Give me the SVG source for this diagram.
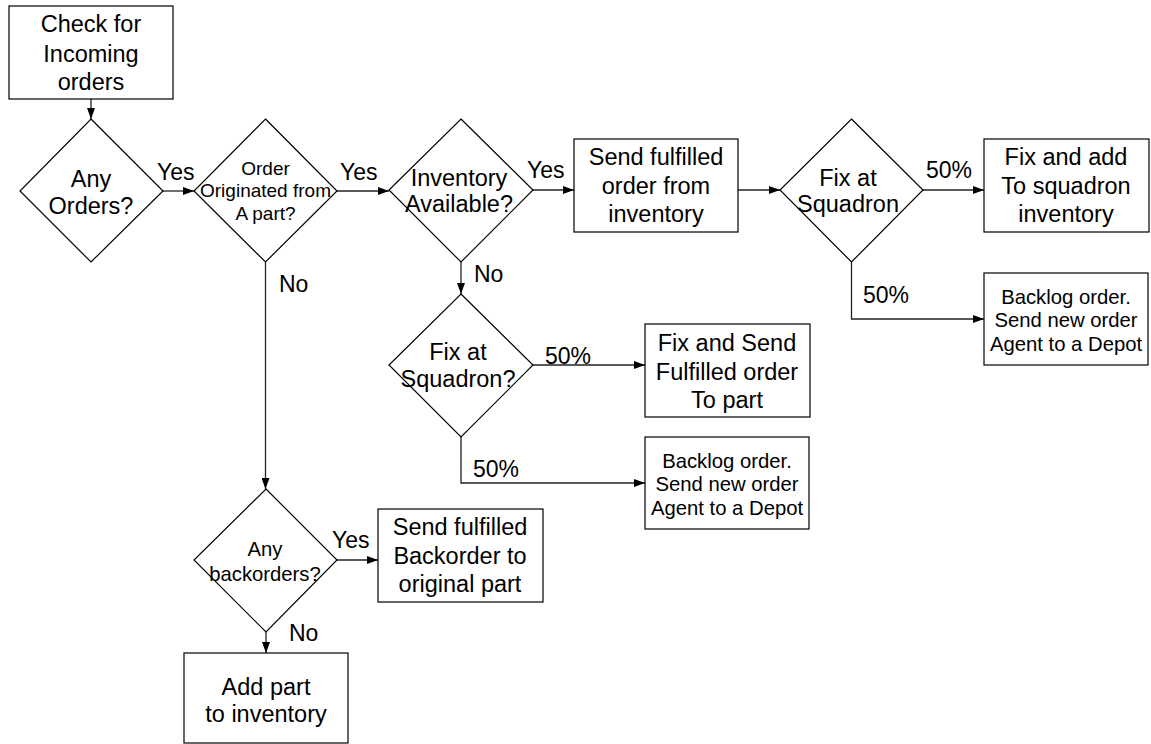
<svg xmlns="http://www.w3.org/2000/svg" width="1151" height="744" viewBox="0 0 1151 744">
<style>
.s{fill:#fff;stroke:#000;stroke-width:1.2}
.c{fill:none;stroke:#222;stroke-width:1.3}
text{font-family:"Liberation Sans",Arial,sans-serif;fill:#000}
.L{font-size:23.5px;text-anchor:middle}
.M{font-size:20.3px;text-anchor:middle}
.S{font-size:19px;text-anchor:middle}
.lb{font-size:23px}
</style>
<defs>
<marker id="ah" markerWidth="11" markerHeight="8" refX="11" refY="4" orient="auto" markerUnits="userSpaceOnUse">
<path d="M0,0 L11,4 L0,8 Z" fill="#000"/>
</marker>
</defs>
<rect width="1151" height="744" fill="#fff"/>
<g id="connectors">
<line class="c" x1="91" y1="99" x2="91" y2="119" marker-end="url(#ah)"/>
<line class="c" x1="163" y1="191" x2="194" y2="191" marker-end="url(#ah)"/>
<line class="c" x1="337" y1="191" x2="389" y2="191" marker-end="url(#ah)"/>
<line class="c" x1="533" y1="190" x2="574" y2="190" marker-end="url(#ah)"/>
<line class="c" x1="738" y1="190" x2="780" y2="190" marker-end="url(#ah)"/>
<line class="c" x1="923" y1="190" x2="984" y2="190" marker-end="url(#ah)"/>
<polyline class="c" points="851.5,262 851.5,319 984,319" marker-end="url(#ah)"/>
<line class="c" x1="461" y1="262" x2="461" y2="294" marker-end="url(#ah)"/>
<line class="c" x1="533" y1="365" x2="645" y2="365" marker-end="url(#ah)"/>
<polyline class="c" points="461,437 461,483 645,483" marker-end="url(#ah)"/>
<line class="c" x1="265.5" y1="262" x2="265.5" y2="489" marker-end="url(#ah)"/>
<line class="c" x1="337" y1="560" x2="378" y2="560" marker-end="url(#ah)"/>
<line class="c" x1="266" y1="632" x2="266" y2="653" marker-end="url(#ah)"/>
<text class="lb" x="157" y="180">Yes</text>
<text class="lb" x="340" y="180">Yes</text>
<text class="lb" x="527" y="178">Yes</text>
<text class="lb" x="926" y="178">50%</text>
<text class="lb" x="863" y="303">50%</text>
<text class="lb" x="474" y="282">No</text>
<text class="lb" x="545" y="364">50%</text>
<text class="lb" x="473" y="477">50%</text>
<text class="lb" x="279" y="292">No</text>
<text class="lb" x="332" y="548">Yes</text>
<text class="lb" x="289" y="641">No</text>
</g>
<g id="check-orders">
<rect class="s" x="9" y="6" width="164" height="93"/>
<text class="L" x="91" y="32">Check for</text>
<text class="L" x="91" y="62">Incoming</text>
<text class="L" x="91" y="90">orders</text>
</g>
<g id="any-orders">
<polygon class="s" points="91,119 163,191 91,262 20,191"/>
<text class="L" x="91" y="187">Any</text>
<text class="L" x="91" y="214">Orders?</text>
</g>
<g id="order-originated">
<polygon class="s" points="265.5,119 337,191 265.5,262 194,191"/>
<text class="S" x="265.5" y="175">Order</text>
<text class="S" x="265.5" y="197">Originated from</text>
<text class="S" x="265.5" y="220">A part?</text>
</g>
<g id="inventory-available">
<polygon class="s" points="461,119 533,190 461,262 389,190"/>
<text class="L" x="459" y="186">Inventory</text>
<text class="L" x="459" y="212">Available?</text>
</g>
<g id="send-from-inventory">
<rect class="s" x="574" y="139" width="164" height="93"/>
<text class="L" x="656" y="165">Send fulfilled</text>
<text class="L" x="656" y="194">order from</text>
<text class="L" x="656" y="222">inventory</text>
</g>
<g id="fix-at-squadron-1">
<polygon class="s" points="851.5,119 923,190 851.5,262 780,190"/>
<text class="L" x="848" y="186">Fix at</text>
<text class="L" x="848" y="212">Squadron</text>
</g>
<g id="fix-and-add">
<rect class="s" x="984" y="139" width="165" height="93"/>
<text class="L" x="1066" y="165">Fix and add</text>
<text class="L" x="1066" y="194">To squadron</text>
<text class="L" x="1066" y="222">inventory</text>
</g>
<g id="backlog-1">
<rect class="s" x="984" y="273" width="164" height="92"/>
<text class="M" x="1066" y="304">Backlog order.</text>
<text class="M" x="1066" y="327">Send new order</text>
<text class="M" x="1066" y="351">Agent to a Depot</text>
</g>
<g id="fix-at-squadron-2">
<polygon class="s" points="461,294 533,365 461,437 389,365"/>
<text class="L" x="458" y="360">Fix at</text>
<text class="L" x="458" y="387">Squadron?</text>
</g>
<g id="fix-and-send">
<rect class="s" x="645" y="324" width="165" height="93"/>
<text class="L" x="727" y="351">Fix and Send</text>
<text class="L" x="727" y="380">Fulfilled order</text>
<text class="L" x="727" y="408">To part</text>
</g>
<g id="backlog-2">
<rect class="s" x="645" y="437" width="164" height="92"/>
<text class="M" x="727" y="468">Backlog order.</text>
<text class="M" x="727" y="491">Send new order</text>
<text class="M" x="727" y="515">Agent to a Depot</text>
</g>
<g id="any-backorders">
<polygon class="s" points="266,489 337,560 266,632 194,560"/>
<text class="M" x="265" y="556">Any</text>
<text class="M" x="265" y="581">backorders?</text>
</g>
<g id="send-backorder">
<rect class="s" x="378" y="509" width="165" height="93"/>
<text class="L" x="460" y="535">Send fulfilled</text>
<text class="L" x="460" y="564">Backorder to</text>
<text class="L" x="460" y="592">original part</text>
</g>
<g id="add-part">
<rect class="s" x="184" y="653" width="164" height="90"/>
<text class="L" x="266" y="695">Add part</text>
<text class="L" x="266" y="722">to inventory</text>
</g>
</svg>
